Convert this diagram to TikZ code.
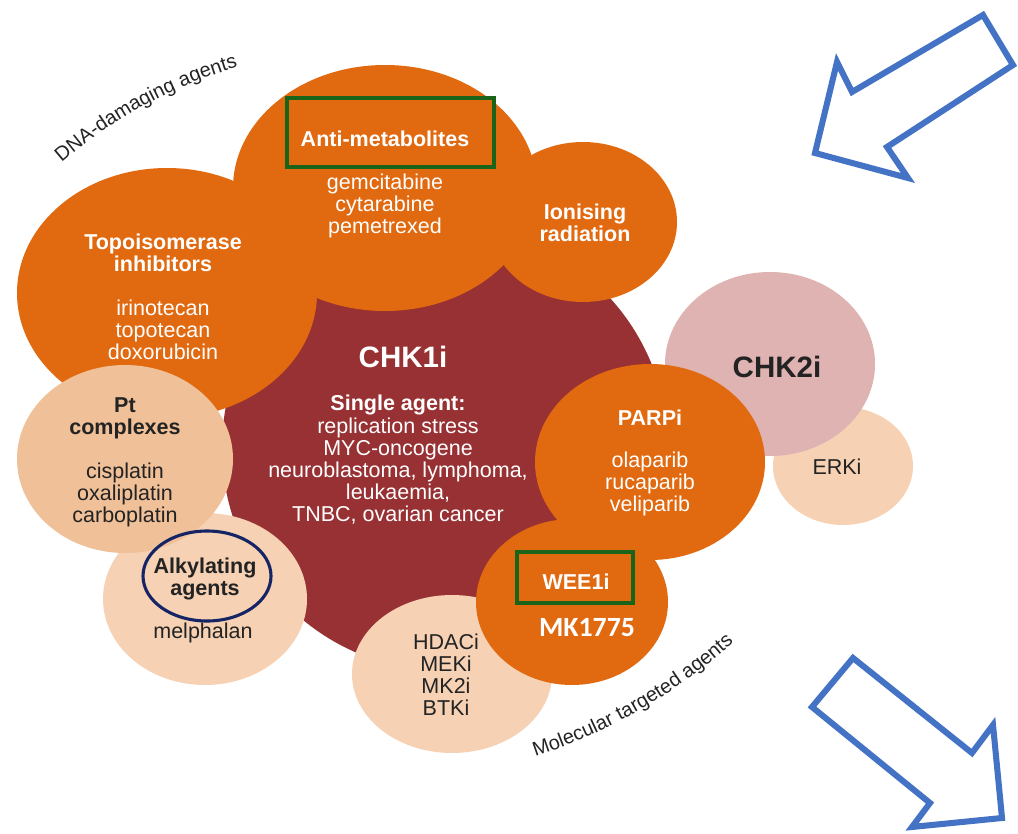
\documentclass[tikz,border=0pt]{standalone}
\usepackage{fontspec}
\setmainfont{Liberation Sans}
\newfontfamily\carlito{Carlito}
\usetikzlibrary{decorations.text}

\definecolor{orng}{RGB}{225,105,15}
\definecolor{chkred}{RGB}{152,49,51}
\definecolor{ptpeach}{RGB}{240,192,152}
\definecolor{lightpeach}{RGB}{246,209,179}
\definecolor{chkpink}{RGB}{222,179,178}
\definecolor{boxgreen}{RGB}{26,100,25}
\definecolor{ringnavy}{RGB}{20,36,100}
\definecolor{arrowblue}{RGB}{68,114,196}
\definecolor{darktext}{RGB}{35,35,35}

\tikzset{
  wtitle/.style={
    text=white,
    align=center,
    font=\bfseries\fontsize{15.3}{15.65}\selectfont
  },
  wtext/.style={
    text=white,
    align=center,
    font=\fontsize{15.3}{15.65}\selectfont
  },
  ktitle/.style={
    text=darktext,
    align=center,
    font=\bfseries\fontsize{15.3}{15.65}\selectfont
  },
  ktext/.style={
    text=darktext,
    align=center,
    font=\fontsize{15.3}{15.65}\selectfont
  },
  bigname/.style={
    font=\bfseries\fontsize{21}{24}\selectfont
  },
}
\tikzset{
  greenbox/.style={
    draw=boxgreen,
    line width=2.8pt
  },
  hollowarrow/.style={
    draw=arrowblue,
    line width=4.3pt,
    line join=miter
  },
  arctext/.style={
    decorate,
    decoration={text along path, text align=center,
      text={|\fontsize{14.2}{15}\selectfont\color{darktext}|#1}}
  },
}

\begin{document}
\begin{tikzpicture}[x=0.025cm,y=-0.025cm]
  \useasboundingbox (0,0) rectangle (1018,834);
  \fill[white] (0,0) rectangle (1018,834);

  % bubbles, back to front
  \fill[lightpeach] (843,466) ellipse [x radius=70, y radius=59];
  \fill[chkpink] (770,364) ellipse [x radius=105, y radius=92];
  \fill[chkred] (445,448) circle [radius=223];
  \fill[lightpeach] (452,674) ellipse [x radius=100, y radius=79];
  \fill[lightpeach] (205,599) ellipse [x radius=102, y radius=86];
  \fill[orng] (583,222) ellipse [x radius=94, y radius=80];
  \fill[orng] (385,188) ellipse [x radius=152, y radius=123];
  \fill[orng] (167,293) ellipse [x radius=150, y radius=125];
  \fill[ptpeach] (125,459) ellipse [x radius=108, y radius=94];
  \fill[orng] (650,462) ellipse [x radius=115, y radius=98];
  \fill[orng] (572,602) ellipse [x radius=96, y radius=83];

  % highlights
  \draw[greenbox] (287,98) rectangle (494,167);
  \draw[greenbox] (517,552) rectangle (633,603);
  \draw[draw=ringnavy, line width=2.2pt] (207,576) ellipse [x radius=64, y radius=45];

  % labels
  \node[wtitle] (amtitle) at (385,139) {Anti-metabolites};
  \node[wtext] (amlist) at (385,206) {gemcitabine\\cytarabine\\pemetrexed};
  \node[wtitle] (ionis) at (585,223) {Ionising\\radiation};
  \node[wtitle] (topotitle) at (163,253) {Topoisomerase\\inhibitors};
  \node[wtext] (topolist) at (163,330) {irinotecan\\topotecan\\doxorubicin};
  \node[bigname, text=white] (chkone) at (403,357) {CHK1i};
  \node[wtitle] (single) at (398,405) {Single agent:};
  \node[wtext] (singlelist) at (398,471) {replication stress\\MYC-oncogene\\neuroblastoma, lymphoma,\\leukaemia,\\TNBC, ovarian cancer};
  \node[bigname, text=darktext] (chktwo) at (777,367) {CHK2i};
  \node[ktitle] (pttitle) at (125,418) {Pt\\complexes};
  \node[ktext] (ptlist) at (125,495) {cisplatin\\oxaliplatin\\carboplatin};
  \node[ktitle] (alktitle) at (205,579) {Alkylating\\agents};
  \node[ktext] (alklist) at (203,633) {melphalan};
  \node[ktext] (mtalist) at (446,675) {HDACi\\MEKi\\MK2i\\BTKi};
  \node[wtitle] (parptitle) at (650,418) {PARPi};
  \node[wtext] (parplist) at (650,484) {olaparib\\rucaparib\\veliparib};
  \node[wtitle] (weetitle) at (576,582) {WEE1i};
  \node[text=white, font=\carlito\bfseries\fontsize{19.8}{22}\selectfont] (mkdrug) at (587,628) {MK1775};
  \node[ktext] (erk) at (837,467) {ERKi};

  % curved captions
  \path[arctext={DNA-damaging agents}] (366,513) ++(226:464) arc [start angle=226, end angle=257, radius=464];
  \path[arctext={Molecular targeted agents}] (359,222) ++(74:563) arc [start angle=74, end angle=46, radius=563];

  % block arrows
  \draw[hollowarrow] (983,15) -- (1013,65) -- (887,147) -- (908,178) -- (815,153) -- (837,62) -- (852,92) -- cycle;
  \draw[hollowarrow] (853,658) -- (972,753) -- (993,725) -- (1002,818) -- (912,827) -- (930,803) -- (812,707) -- cycle;
\end{tikzpicture}
\end{document}
